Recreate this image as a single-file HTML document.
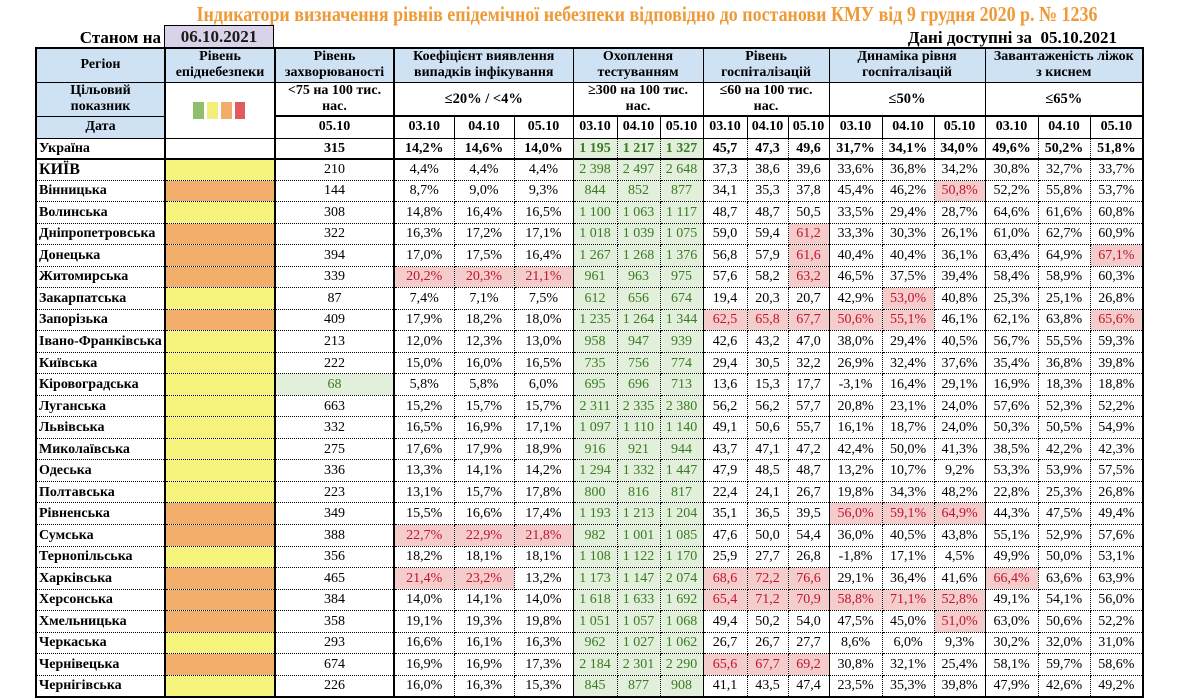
<!DOCTYPE html>
<html lang="uk">
<head>
<meta charset="utf-8">
<style>
*{box-sizing:border-box}
html,body{margin:0;padding:0}
body{width:1200px;height:700px;overflow:hidden;background:#fff;position:relative;font-family:"Liberation Serif","DejaVu Serif",serif;color:#000}
.title{position:absolute;left:647px;top:1px;transform:translateX(-50%) scaleX(0.835);white-space:nowrap;font-weight:bold;font-size:21.5px;line-height:26px;color:#ef9a36}
.st{position:absolute;right:1039px;top:27px;font-weight:bold;font-size:17px;line-height:22px;white-space:nowrap}
.dt{position:absolute;left:164px;top:25px;width:110px;height:23px;background:#d9d2e9;border:1px solid #000;border-bottom:none;text-align:center;font-weight:bold;font-size:17px;line-height:22px;color:#1a1a1a}
.av{position:absolute;right:83px;top:27px;font-weight:bold;font-size:17px;line-height:22px;white-space:nowrap}
table{position:absolute;left:35px;top:47px;width:1107px;border-collapse:collapse;table-layout:fixed;border:2px solid #000}
td{padding:0;text-align:center;vertical-align:middle;font-size:14px;line-height:15px;white-space:nowrap;border:1px dotted #000;overflow:hidden}
tr.h td{border:1px solid #000;font-weight:bold;font-size:14px;line-height:16px}
tr.h td.b2{border-left:2px solid #000}
.hb{background:#cfe2f3}
tr.d td{border-top:2px solid #000;font-size:14px}
tr.d td.rd{border-top:1px solid #000}
tr.ua td{font-weight:bold;border-bottom:2px solid #000}
tr.b td:nth-child(1),tr.ua td:nth-child(1){text-align:left;font-weight:bold;padding-left:2px}
tr.b td:nth-child(2),tr.b td:nth-child(3),tr.b td:nth-child(4),
tr.ua td:nth-child(2),tr.ua td:nth-child(3),tr.ua td:nth-child(4){border-left:2px solid #000}
tr.b td:nth-child(7),tr.b td:nth-child(10),tr.b td:nth-child(13),tr.b td:nth-child(16),
tr.ua td:nth-child(7),tr.ua td:nth-child(10),tr.ua td:nth-child(13),tr.ua td:nth-child(16){border-left:1px solid #000}
tr.b td:nth-child(7),tr.b td:nth-child(8),tr.b td:nth-child(9),
tr.ua td:nth-child(7),tr.ua td:nth-child(8),tr.ua td:nth-child(9){background:#e2efda;color:#3b7a25}
tr.b td{height:21.54px}
tr.b.k td{height:21px}
tr.b.k td:nth-child(1){font-size:16px}
td.y{background:#f6f47c}
td.o{background:#f4ae6b}
td.r{background:#f4cccc;color:#c0142c}
td.g{background:#e2efda;color:#3b7a25}
.sq{position:absolute;top:102px;width:10.5px;height:17px}
</style>
</head>
<body>
<div class="title">Індикатори визначення рівнів епідемічної небезпеки відповідно до постанови КМУ від 9 грудня 2020 р. № 1236</div>
<div class="st">Станом на</div>
<div class="dt">06.10.2021</div>
<div class="av">Дані доступні за&nbsp;&nbsp;05.10.2021</div>

<table>
<colgroup>
<col style="width:129px"><col style="width:110px"><col style="width:119px">
<col style="width:60px"><col style="width:60px"><col style="width:59px">
<col style="width:44px"><col style="width:43px"><col style="width:43px">
<col style="width:44px"><col style="width:41px"><col style="width:41px">
<col style="width:53px"><col style="width:52px"><col style="width:51px">
<col style="width:53px"><col style="width:52px"><col style="width:53px">
</colgroup>
<tr class="h" style="height:34px">
<td class="hb">Регіон</td>
<td class="hb b2">Рівень<br>епіднебезпеки</td>
<td class="hb b2">Рівень<br>захворюваності</td>
<td class="hb b2" colspan="3">Коефіцієнт виявлення<br>випадків інфікування</td>
<td class="hb" colspan="3">Охоплення<br>тестуванням</td>
<td class="hb" colspan="3">Рівень<br>госпіталізацій</td>
<td class="hb" colspan="3">Динаміка рівня<br>госпіталізацій</td>
<td class="hb" colspan="3">Завантаженість ліжок<br>з киснем</td>
</tr>
<tr class="h" style="height:34px">
<td class="hb">Цільовий<br>показник</td>
<td class="b2" rowspan="2"></td>
<td class="b2">&lt;75 на 100 тис.<br>нас.</td>
<td class="b2" colspan="3" style="font-size:14.5px">≤20% / &lt;4%</td>
<td colspan="3">≥300 на 100 тис.<br>нас.</td>
<td colspan="3">≤60 на 100 тис.<br>нас.</td>
<td colspan="3" style="font-size:14.5px">≤50%</td>
<td colspan="3" style="font-size:14.5px">≤65%</td>
</tr>
<tr class="h d" style="height:22px">
<td class="hb rd">Дата</td>
<td class="b2">05.10</td>
<td class="b2">03.10</td><td>04.10</td><td>05.10</td>
<td>03.10</td><td>04.10</td><td>05.10</td>
<td>03.10</td><td>04.10</td><td>05.10</td>
<td>03.10</td><td>04.10</td><td>05.10</td>
<td>03.10</td><td>04.10</td><td>05.10</td>
</tr>
<tr class="ua" style="height:21px">
<td>Україна</td><td></td><td>315</td>
<td>14,2%</td><td>14,6%</td><td>14,0%</td>
<td>1 195</td><td>1 217</td><td>1 327</td>
<td>45,7</td><td>47,3</td><td>49,6</td>
<td>31,7%</td><td>34,1%</td><td>34,0%</td>
<td>49,6%</td><td>50,2%</td><td>51,8%</td>
</tr>
<tr class="b k"><td>КИЇВ</td><td class="y"></td><td>210</td><td>4,4%</td><td>4,4%</td><td>4,4%</td><td>2 398</td><td>2 497</td><td>2 648</td><td>37,3</td><td>38,6</td><td>39,6</td><td>33,6%</td><td>36,8%</td><td>34,2%</td><td>30,8%</td><td>32,7%</td><td>33,7%</td></tr>
<tr class="b"><td>Вінницька</td><td class="o"></td><td>144</td><td>8,7%</td><td>9,0%</td><td>9,3%</td><td>844</td><td>852</td><td>877</td><td>34,1</td><td>35,3</td><td>37,8</td><td>45,4%</td><td>46,2%</td><td class="r">50,8%</td><td>52,2%</td><td>55,8%</td><td>53,7%</td></tr>
<tr class="b"><td>Волинська</td><td class="y"></td><td>308</td><td>14,8%</td><td>16,4%</td><td>16,5%</td><td>1 100</td><td>1 063</td><td>1 117</td><td>48,7</td><td>48,7</td><td>50,5</td><td>33,5%</td><td>29,4%</td><td>28,7%</td><td>64,6%</td><td>61,6%</td><td>60,8%</td></tr>
<tr class="b"><td>Дніпропетровська</td><td class="o"></td><td>322</td><td>16,3%</td><td>17,2%</td><td>17,1%</td><td>1 018</td><td>1 039</td><td>1 075</td><td>59,0</td><td>59,4</td><td class="r">61,2</td><td>33,3%</td><td>30,3%</td><td>26,1%</td><td>61,0%</td><td>62,7%</td><td>60,9%</td></tr>
<tr class="b"><td>Донецька</td><td class="o"></td><td>394</td><td>17,0%</td><td>17,5%</td><td>16,4%</td><td>1 267</td><td>1 268</td><td>1 376</td><td>56,8</td><td>57,9</td><td class="r">61,6</td><td>40,4%</td><td>40,4%</td><td>36,1%</td><td>63,4%</td><td>64,9%</td><td class="r">67,1%</td></tr>
<tr class="b"><td>Житомирська</td><td class="o"></td><td>339</td><td class="r">20,2%</td><td class="r">20,3%</td><td class="r">21,1%</td><td>961</td><td>963</td><td>975</td><td>57,6</td><td>58,2</td><td class="r">63,2</td><td>46,5%</td><td>37,5%</td><td>39,4%</td><td>58,4%</td><td>58,9%</td><td>60,3%</td></tr>
<tr class="b"><td>Закарпатська</td><td class="y"></td><td>87</td><td>7,4%</td><td>7,1%</td><td>7,5%</td><td>612</td><td>656</td><td>674</td><td>19,4</td><td>20,3</td><td>20,7</td><td>42,9%</td><td class="r">53,0%</td><td>40,8%</td><td>25,3%</td><td>25,1%</td><td>26,8%</td></tr>
<tr class="b"><td>Запорізька</td><td class="o"></td><td>409</td><td>17,9%</td><td>18,2%</td><td>18,0%</td><td>1 235</td><td>1 264</td><td>1 344</td><td class="r">62,5</td><td class="r">65,8</td><td class="r">67,7</td><td class="r">50,6%</td><td class="r">55,1%</td><td>46,1%</td><td>62,1%</td><td>63,8%</td><td class="r">65,6%</td></tr>
<tr class="b"><td>Івано-Франківська</td><td class="y"></td><td>213</td><td>12,0%</td><td>12,3%</td><td>13,0%</td><td>958</td><td>947</td><td>939</td><td>42,6</td><td>43,2</td><td>47,0</td><td>38,0%</td><td>29,4%</td><td>40,5%</td><td>56,7%</td><td>55,5%</td><td>59,3%</td></tr>
<tr class="b"><td>Київська</td><td class="y"></td><td>222</td><td>15,0%</td><td>16,0%</td><td>16,5%</td><td>735</td><td>756</td><td>774</td><td>29,4</td><td>30,5</td><td>32,2</td><td>26,9%</td><td>32,4%</td><td>37,6%</td><td>35,4%</td><td>36,8%</td><td>39,8%</td></tr>
<tr class="b"><td>Кіровоградська</td><td class="y"></td><td class="g">68</td><td>5,8%</td><td>5,8%</td><td>6,0%</td><td>695</td><td>696</td><td>713</td><td>13,6</td><td>15,3</td><td>17,7</td><td>-3,1%</td><td>16,4%</td><td>29,1%</td><td>16,9%</td><td>18,3%</td><td>18,8%</td></tr>
<tr class="b"><td>Луганська</td><td class="y"></td><td>663</td><td>15,2%</td><td>15,7%</td><td>15,7%</td><td>2 311</td><td>2 335</td><td>2 380</td><td>56,2</td><td>56,2</td><td>57,7</td><td>20,8%</td><td>23,1%</td><td>24,0%</td><td>57,6%</td><td>52,3%</td><td>52,2%</td></tr>
<tr class="b"><td>Львівська</td><td class="y"></td><td>332</td><td>16,5%</td><td>16,9%</td><td>17,1%</td><td>1 097</td><td>1 110</td><td>1 140</td><td>49,1</td><td>50,6</td><td>55,7</td><td>16,1%</td><td>18,7%</td><td>24,0%</td><td>50,3%</td><td>50,5%</td><td>54,9%</td></tr>
<tr class="b"><td>Миколаївська</td><td class="y"></td><td>275</td><td>17,6%</td><td>17,9%</td><td>18,9%</td><td>916</td><td>921</td><td>944</td><td>43,7</td><td>47,1</td><td>47,2</td><td>42,4%</td><td>50,0%</td><td>41,3%</td><td>38,5%</td><td>42,2%</td><td>42,3%</td></tr>
<tr class="b"><td>Одеська</td><td class="y"></td><td>336</td><td>13,3%</td><td>14,1%</td><td>14,2%</td><td>1 294</td><td>1 332</td><td>1 447</td><td>47,9</td><td>48,5</td><td>48,7</td><td>13,2%</td><td>10,7%</td><td>9,2%</td><td>53,3%</td><td>53,9%</td><td>57,5%</td></tr>
<tr class="b"><td>Полтавська</td><td class="y"></td><td>223</td><td>13,1%</td><td>15,7%</td><td>17,8%</td><td>800</td><td>816</td><td>817</td><td>22,4</td><td>24,1</td><td>26,7</td><td>19,8%</td><td>34,3%</td><td>48,2%</td><td>22,8%</td><td>25,3%</td><td>26,8%</td></tr>
<tr class="b"><td>Рівненська</td><td class="o"></td><td>349</td><td>15,5%</td><td>16,6%</td><td>17,4%</td><td>1 193</td><td>1 213</td><td>1 204</td><td>35,1</td><td>36,5</td><td>39,5</td><td class="r">56,0%</td><td class="r">59,1%</td><td class="r">64,9%</td><td>44,3%</td><td>47,5%</td><td>49,4%</td></tr>
<tr class="b"><td>Сумська</td><td class="o"></td><td>388</td><td class="r">22,7%</td><td class="r">22,9%</td><td class="r">21,8%</td><td>982</td><td>1 001</td><td>1 085</td><td>47,6</td><td>50,0</td><td>54,4</td><td>36,0%</td><td>40,5%</td><td>43,8%</td><td>55,1%</td><td>52,9%</td><td>57,6%</td></tr>
<tr class="b"><td>Тернопільська</td><td class="y"></td><td>356</td><td>18,2%</td><td>18,1%</td><td>18,1%</td><td>1 108</td><td>1 122</td><td>1 170</td><td>25,9</td><td>27,7</td><td>26,8</td><td>-1,8%</td><td>17,1%</td><td>4,5%</td><td>49,9%</td><td>50,0%</td><td>53,1%</td></tr>
<tr class="b"><td>Харківська</td><td class="o"></td><td>465</td><td class="r">21,4%</td><td class="r">23,2%</td><td>13,2%</td><td>1 173</td><td>1 147</td><td>2 074</td><td class="r">68,6</td><td class="r">72,2</td><td class="r">76,6</td><td>29,1%</td><td>36,4%</td><td>41,6%</td><td class="r">66,4%</td><td>63,6%</td><td>63,9%</td></tr>
<tr class="b"><td>Херсонська</td><td class="o"></td><td>384</td><td>14,0%</td><td>14,1%</td><td>14,0%</td><td>1 618</td><td>1 633</td><td>1 692</td><td class="r">65,4</td><td class="r">71,2</td><td class="r">70,9</td><td class="r">58,8%</td><td class="r">71,1%</td><td class="r">52,8%</td><td>49,1%</td><td>54,1%</td><td>56,0%</td></tr>
<tr class="b"><td>Хмельницька</td><td class="o"></td><td>358</td><td>19,1%</td><td>19,3%</td><td>19,8%</td><td>1 051</td><td>1 057</td><td>1 068</td><td>49,4</td><td>50,2</td><td>54,0</td><td>47,5%</td><td>45,0%</td><td class="r">51,0%</td><td>63,0%</td><td>50,6%</td><td>52,2%</td></tr>
<tr class="b"><td>Черкаська</td><td class="y"></td><td>293</td><td>16,6%</td><td>16,1%</td><td>16,3%</td><td>962</td><td>1 027</td><td>1 062</td><td>26,7</td><td>26,7</td><td>27,7</td><td>8,6%</td><td>6,0%</td><td>9,3%</td><td>30,2%</td><td>32,0%</td><td>31,0%</td></tr>
<tr class="b"><td>Чернівецька</td><td class="o"></td><td>674</td><td>16,9%</td><td>16,9%</td><td>17,3%</td><td>2 184</td><td>2 301</td><td>2 290</td><td class="r">65,6</td><td class="r">67,7</td><td class="r">69,2</td><td>30,8%</td><td>32,1%</td><td>25,4%</td><td>58,1%</td><td>59,7%</td><td>58,6%</td></tr>
<tr class="b"><td>Чернігівська</td><td class="y"></td><td>226</td><td>16,0%</td><td>16,3%</td><td>15,3%</td><td>845</td><td>877</td><td>908</td><td>41,1</td><td>43,5</td><td>47,4</td><td>23,5%</td><td>35,3%</td><td>39,8%</td><td>47,9%</td><td>42,6%</td><td>49,2%</td></tr>
</table>

<div class="sq" style="left:193px;background:#8dbf6d"></div>
<div class="sq" style="left:207px;background:#f2f07a"></div>
<div class="sq" style="left:221px;background:#f4ad69"></div>
<div class="sq" style="left:234.5px;background:#e05a5e"></div>
</body>
</html>
